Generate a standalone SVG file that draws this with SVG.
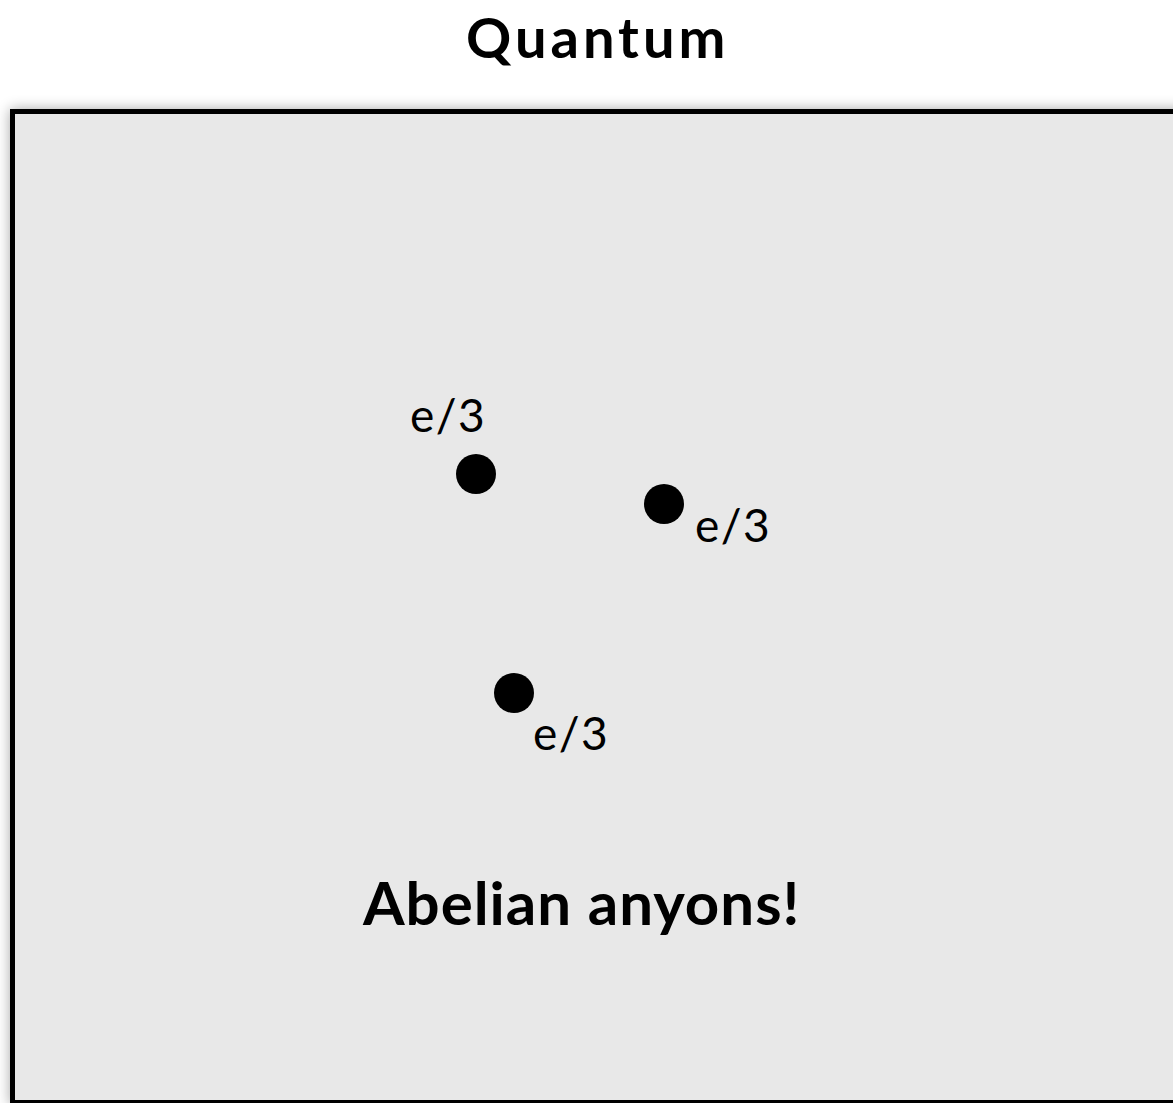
<svg xmlns="http://www.w3.org/2000/svg" width="1173" height="1103" viewBox="0 0 1173 1103">
<defs>
<style>
.lbl{font-family:Lato,"Liberation Sans",sans-serif;font-size:46px;letter-spacing:1.5px;fill:#000}
.bold{font-family:Lato,"Liberation Sans",sans-serif;font-weight:bold;fill:#000}
.dot{fill:#000}
</style>
<filter id="sh" x="-5%" y="-5%" width="110%" height="110%">
<feGaussianBlur in="SourceAlpha" stdDeviation="7"/>
<feComponentTransfer><feFuncA type="linear" slope="0.35"/></feComponentTransfer>
<feMerge><feMergeNode/><feMergeNode in="SourceGraphic"/></feMerge>
</filter>
</defs>
<rect width="1173" height="1103" fill="#fff"/>
<text class="bold" x="466" y="58" font-size="56" letter-spacing="4">Quantum</text>
<g id="box">
<rect x="12.5" y="111.5" width="1200" height="991" fill="#e8e8e8" stroke="#000" stroke-width="5" filter="url(#sh)"/>
</g>
<g id="connectors"></g>
<g id="p1"><circle class="dot" cx="476" cy="474" r="20"/><text class="lbl" x="410" y="432">e/3</text></g>
<g id="p2"><circle class="dot" cx="664" cy="504" r="20"/><text class="lbl" x="695" y="542">e/3</text></g>
<g id="p3"><circle class="dot" cx="514" cy="693" r="20"/><text class="lbl" x="533" y="750">e/3</text></g>
<g id="caption"><text class="bold" x="363" y="925" font-size="60" letter-spacing="1">Abelian anyons!</text></g>
</svg>
